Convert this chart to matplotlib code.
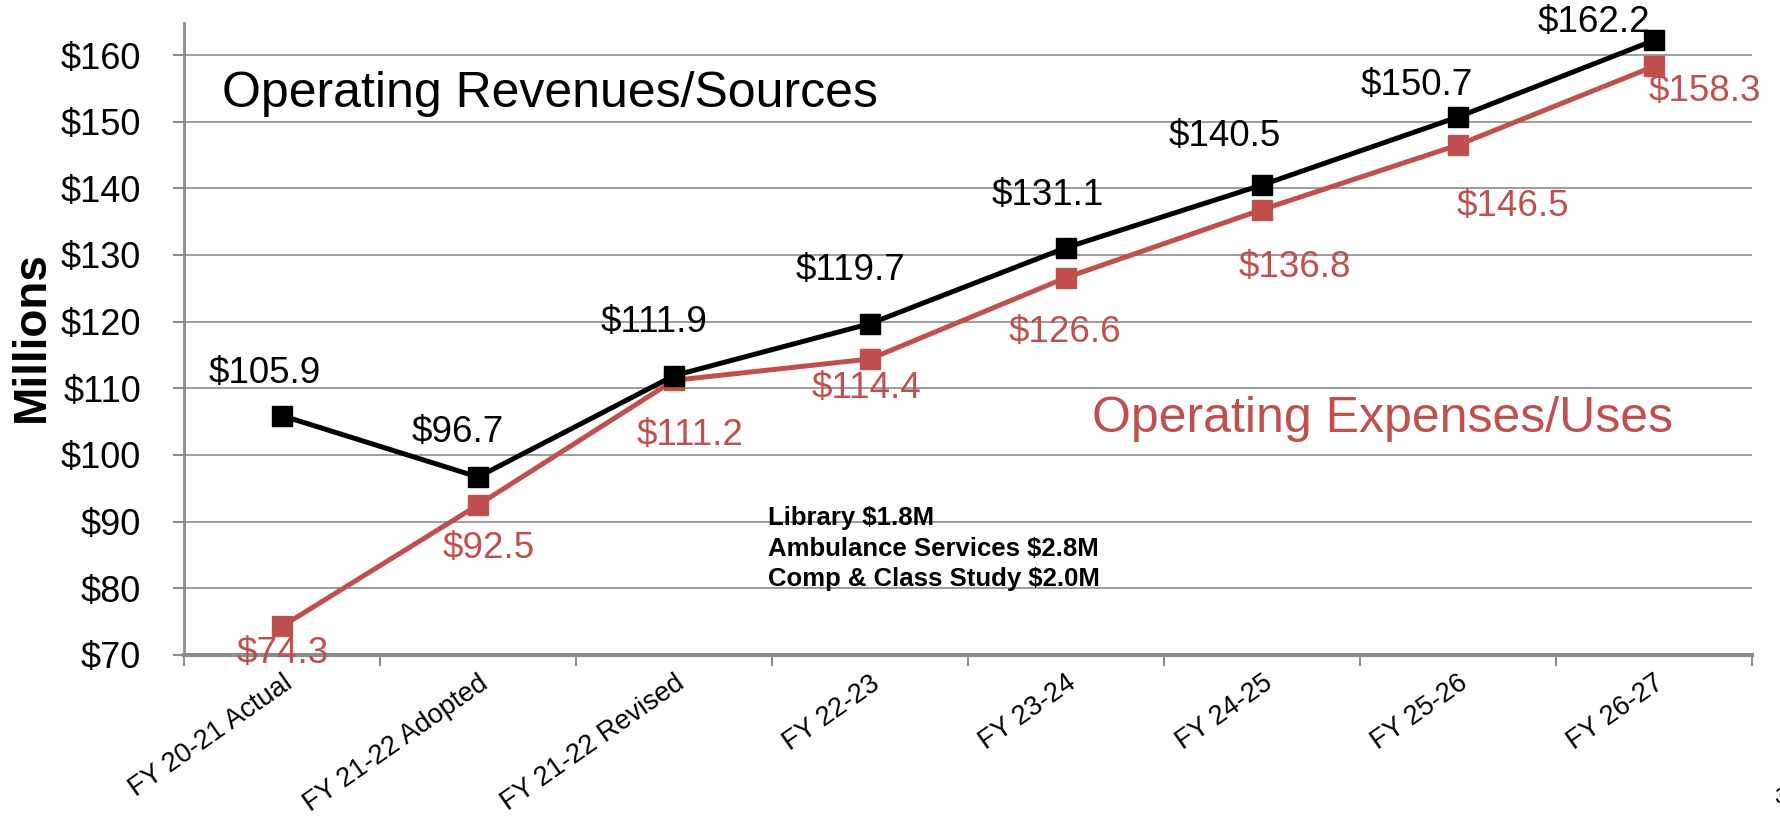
import matplotlib.pyplot as plt
import numpy as np

plt.rcParams['font.family'] = ['Liberation Sans', 'DejaVu Sans']

# chart data
years = ['FY 20-21 Actual', 'FY 21-22 Adopted', 'FY 21-22 Revised', 'FY 22-23',
         'FY 23-24', 'FY 24-25', 'FY 25-26', 'FY 26-27']
revenues = [105.9, 96.7, 111.9, 119.7, 131.1, 140.5, 150.7, 162.2]
expenses = [74.3, 92.5, 111.2, 114.4, 126.6, 136.8, 146.5, 158.3]
yticks = [70, 80, 90, 100, 110, 120, 130, 140, 150, 160]
note_lines = ['Library $1.8M', 'Ambulance Services $2.8M', 'Comp & Class Study $2.0M']

# label nudges in pixels (the original labels were hand placed)
rev_off = [(-17, 42), (-20, 45), (-20, 53), (-19, 53), (-18, 52), (-37, 48), (-41, 32), (-60, 18)]
exp_off = [(1, -27), (11, -43), (16, -55), (-3, -30), (-1, -55), (33, -58), (55, -61), (51, -25)]

RED = '#C0504D'
GRID = '#8c8c8c'
W, H = 1781, 816

fig = plt.figure(figsize=(W / 100, H / 100), dpi=100)
ax = fig.add_axes([184 / W, 1 - 655 / H, 1568 / W, 632 / H])

x = np.arange(len(years))
ax.plot(x, revenues, color='black', lw=3.6, marker='s', ms=14.5, zorder=4)
ax.plot(x, expenses, color=RED, lw=3.6, marker='s', ms=14.5, zorder=3)

for xi, v, (dx, dy) in zip(x, revenues, rev_off):
    ax.annotate('${:.1f}'.format(v), (xi, v), xytext=(dx, dy), textcoords='offset pixels',
                ha='center', va='center', fontsize=26.5, color='black', zorder=5)
for xi, v, (dx, dy) in zip(x, expenses, exp_off):
    ax.annotate('${:.1f}'.format(v), (xi, v), xytext=(dx, dy), textcoords='offset pixels',
                ha='center', va='center', fontsize=26.5, color=RED, zorder=5)

ax.set_xlim(-0.5, len(years) - 0.5)
ax.set_ylim(70, 164.8)

# y axis
ax.set_yticks(yticks)
ax.set_yticklabels(['${}'.format(t) for t in yticks], fontsize=26)
ax.yaxis.grid(True, color=GRID, lw=1.2)
ax.set_axisbelow(True)

# x axis: ticks between categories, labels at categories
ax.set_xticks(np.arange(len(years) + 1) - 0.5)
ax.set_xticklabels([])
ax.set_xticks(x, minor=True)
ax.set_xticklabels(years, minor=True, rotation=35, ha='right', va='top',
                   rotation_mode='anchor', fontsize=19.5)
ax.tick_params(axis='x', which='minor', length=0, pad=11)
ax.tick_params(axis='x', which='major', length=8, width=1.5, color=GRID)
ax.tick_params(axis='y', length=8, width=1.5, color=GRID, pad=23)

for s in ['top', 'right']:
    ax.spines[s].set_visible(False)
ax.spines['left'].set_color(GRID)
ax.spines['left'].set_linewidth(2)
ax.spines['bottom'].set_color(GRID)
ax.spines['bottom'].set_linewidth(3)

fig.text(222 / W, 1 - 107 / H, 'Operating Revenues/Sources', fontsize=36,
         va='baseline', ha='left', color='black')
fig.text(1092 / W, 1 - 432 / H, 'Operating Expenses/Uses', fontsize=36,
         va='baseline', ha='left', color=RED)

for i, line in enumerate(note_lines):
    fig.text(768 / W, 1 - (525 + 30.5 * i) / H, line, fontsize=18.5,
             fontweight='bold', va='baseline', ha='left')

fig.text(31.5 / W, 1 - 336.5 / H, 'Millions', rotation=90, fontsize=33,
         fontweight='bold', ha='center', va='center')
fig.text(1774 / W, 0.01, '3', fontsize=16, ha='left', va='bottom')

fig.savefig('out.png', dpi=100)
